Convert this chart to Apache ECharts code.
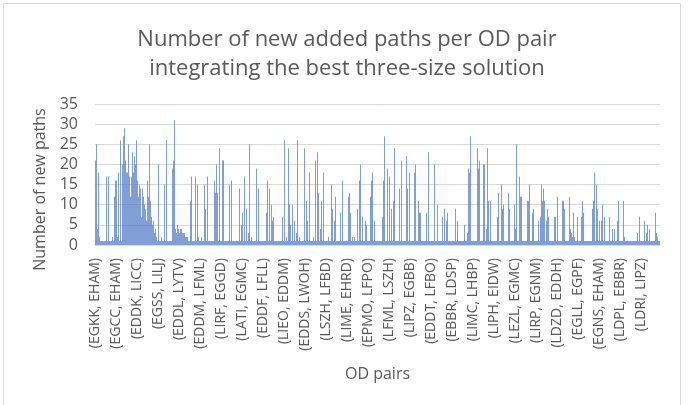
<!DOCTYPE html>
<html>
<head>
<meta charset="utf-8">
<script src="https://cdn.jsdelivr.net/npm/echarts@6/dist/echarts.min.js"></script>
<style>
html, body { margin: 0; padding: 0; background: #fff; }
#chart { width: 694px; height: 405px; }
</style>
</head>
<body>
<div id="chart"></div>
<script>
// labelled OD pairs, one every 21 categories
const odLabels = [
  '(EGKK, EHAM)', '(EGCC, EHAM)', '(EDDK, LICC)', '(EGSS, LILJ)', '(EDDL, LYTV)',
  '(EDDM, LFML)', '(LIRF, EGGD)', '(LATI, EGMC)', '(EDDF, LFLL)', '(LIEO, EDDM)',
  '(EDDS, LWOH)', '(LSZH, LFBD)', '(LIME, EHRD)', '(EPMO, LFPO)', '(LFML, LSZH)',
  '(LIPZ, EGBB)', '(EDDT, LFBO)', '(EBBR, LDSP)', '(LIMC, LHBP)', '(LIPH, EIDW)',
  '(LEZL, EGMC)', '(LIRP, EGNM)', '(LDZD, EDDH)', '(EGLL, EGPF)', '(EGNS, EHAM)',
  '(LDPL, EBBR)', '(LDRI, LIPZ)'
];
const labelStep = 21;

// number of new paths, one row per labelled group
const newPaths = [
  21,25,4,18,2,1,1,1,1,1,1,17,1,17,1,1,1,2,1,12,16,
  16,2,18,1,26,1,20,27,29,21,18,18,25,17,12,17,23,18,22,20,26,
  16,12,15,14,7,14,12,10,9,6,16,12,25,11,7,5,6,3,4,2,1,
  20,1,1,2,1,1,15,1,26,1,1,1,1,1,19,21,31,4,3,5,4,
  3,4,4,3,3,3,2,2,2,1,1,11,17,1,1,1,17,1,15,2,1,
  1,2,1,1,15,9,1,17,1,1,1,1,1,1,16,13,20,13,1,24,1,
  1,21,21,1,1,1,1,1,15,1,16,1,1,1,1,1,1,1,14,1,5,
  8,1,17,1,9,1,3,25,1,2,1,1,1,1,19,1,14,1,1,1,1,
  1,1,1,8,16,1,14,1,10,6,7,1,1,1,1,1,1,1,1,7,1,
  26,1,2,1,24,10,5,1,10,1,6,1,3,26,1,2,1,1,1,1,24,
  1,11,6,1,18,1,1,1,2,1,21,1,23,13,1,4,11,1,18,1,1,
  1,1,2,1,1,15,9,1,6,12,1,1,1,1,8,1,16,1,1,1,1,
  1,12,13,8,1,2,1,2,1,1,9,1,16,20,1,7,1,1,6,5,1,
  1,1,12,16,18,1,6,1,1,1,1,1,1,1,7,16,27,1,1,19,1,
  17,1,9,1,11,24,1,1,1,1,14,1,21,1,1,1,1,22,14,1,18,
  1,1,1,1,18,20,1,1,11,8,8,1,1,1,1,1,8,1,23,1,1,
  1,1,1,20,1,1,10,1,1,1,1,7,1,9,1,6,8,1,1,1,1,
  1,1,1,9,1,6,1,1,1,1,1,1,5,1,1,3,19,18,27,1,1,
  1,1,1,1,24,19,21,1,1,1,20,20,1,4,24,11,1,11,1,1,1,
  1,1,1,7,13,1,1,15,9,10,1,1,1,1,13,9,1,1,1,1,10,
  4,25,1,1,17,12,12,1,1,1,1,1,11,11,15,1,1,8,9,1,1,
  1,1,6,1,7,15,11,14,11,1,6,9,7,1,1,1,1,1,7,7,1,
  12,1,1,1,1,11,11,9,1,1,1,1,12,4,3,2,8,2,1,1,7,
  1,1,1,7,11,8,1,1,1,1,1,1,1,1,9,11,18,1,15,9,1,
  6,1,6,10,1,7,1,1,1,1,7,1,1,4,1,4,1,1,6,11,1,
  1,1,1,11,2,1,1,1,1,1,1,1,1,1,1,1,1,3,1,7,1,
  1,1,1,6,1,3,5,1,4,1,1,1,1,1,8,3,2,1,1
];

const yTicks = { min: 0, max: 35, step: 5 };

const odPairs = newPaths.map((v, i) =>
  i % labelStep === 0 ? (odLabels[i / labelStep] || '') : '');

const chart = echarts.init(document.getElementById('chart'));
chart.setOption({
  animation: false,
  textStyle: { fontFamily: 'Open Sans' },
  title: {
    text: 'Number of new added paths per OD pair\nintegrating the best three-size solution',
    left: 'center',
    top: 20,
    textStyle: {
      color: '#595959',
      fontSize: 22,
      fontWeight: 'normal',
      lineHeight: 29,
      fontFamily: 'Open Sans'
    }
  },
  graphic: [{
    type: 'rect',
    shape: { x: 3.5, y: 3.5, width: 677, height: 420 },
    style: { fill: 'none', stroke: '#d9d9d9', lineWidth: 1 },
    silent: true
  }],
  grid: { left: 95, right: 34, top: 104, bottom: 160, containLabel: false },
  xAxis: {
    type: 'category',
    data: odPairs,
    name: 'OD pairs',
    nameLocation: 'middle',
    nameGap: 121,
    nameTextStyle: { color: '#595959', fontSize: 16 },
    axisLine: { lineStyle: { color: '#d9d9d9' } },
    axisTick: { show: false },
    axisLabel: {
      interval: labelStep - 1,
      rotate: 90,
      color: '#595959',
      fontSize: 14,
      margin: 13
    }
  },
  yAxis: {
    type: 'value',
    min: yTicks.min,
    max: yTicks.max,
    interval: yTicks.step,
    name: 'Number of new paths',
    nameLocation: 'middle',
    nameGap: 38,
    nameTextStyle: { color: '#595959', fontSize: 16, padding: [0, 30, 0, 0] },
    axisLine: { show: false },
    axisTick: { show: false },
    axisLabel: { color: '#595959', fontSize: 16, margin: 17 },
    splitLine: { lineStyle: { color: '#d9d9d9' } }
  },
  series: [{
    type: 'bar',
    data: newPaths,
    barCategoryGap: '0%',
    itemStyle: { color: '#4472C4', opacity: 0.68 }
  }]
});
</script>
</body>
</html>
